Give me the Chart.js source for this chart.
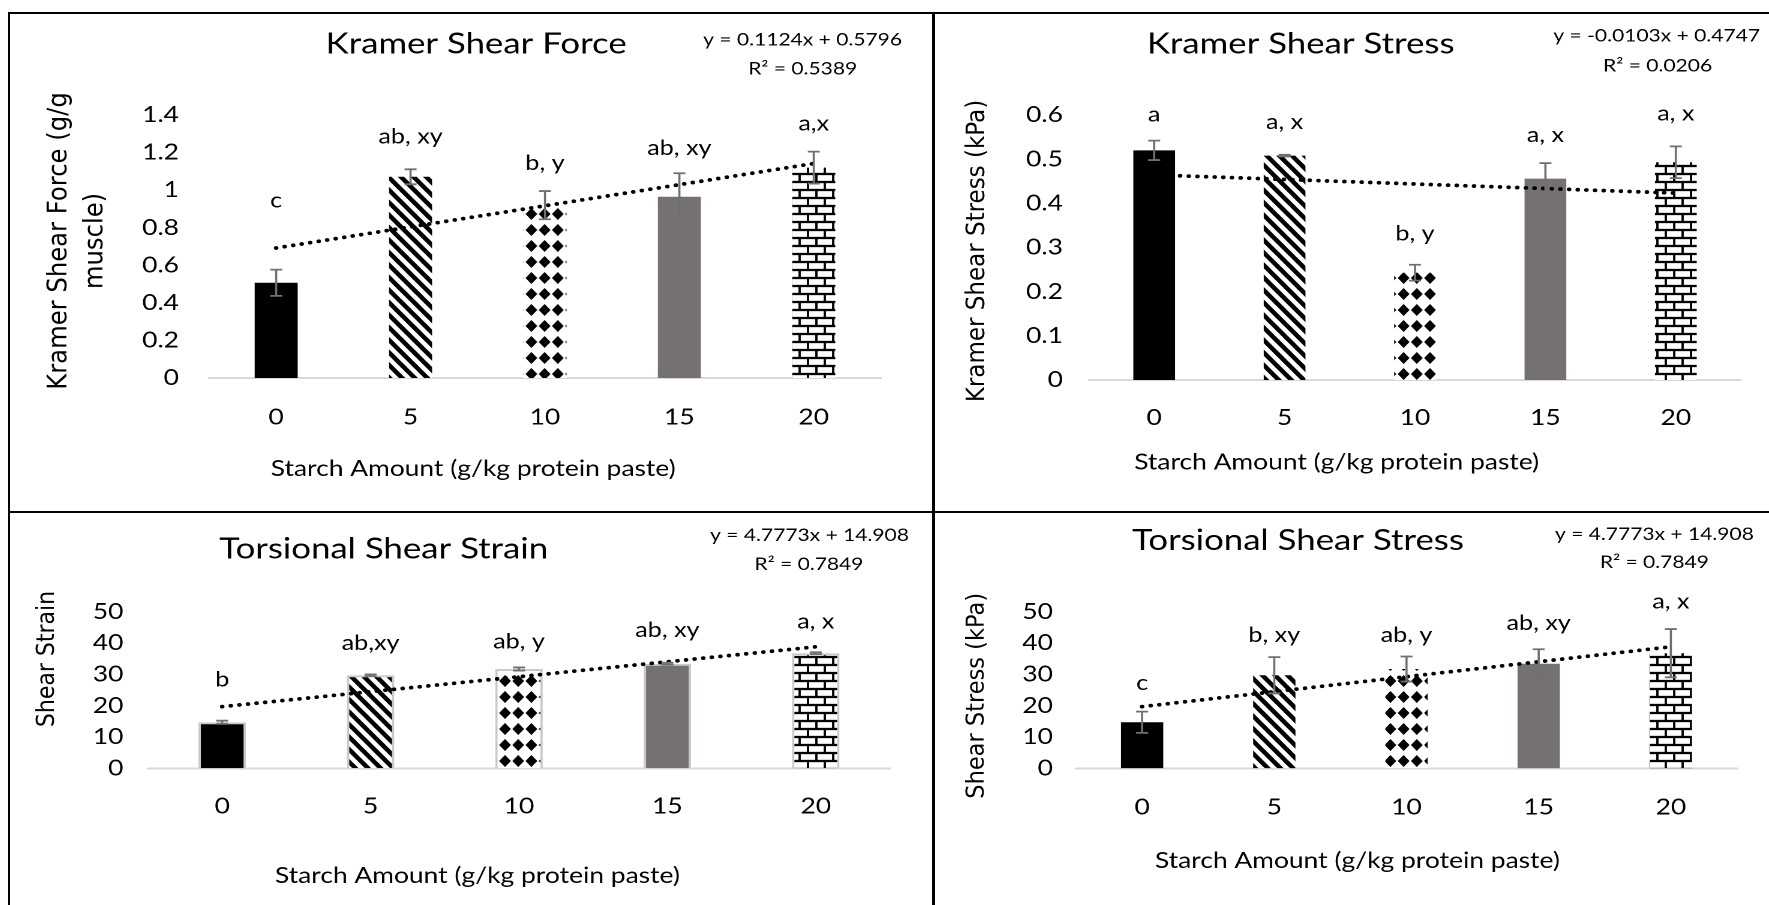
<!DOCTYPE html>
<html>
<head>
<meta charset="utf-8">
<script src="https://cdn.jsdelivr.net/npm/chart.js@4.4.1/dist/chart.umd.min.js"></script>
<style>
  html, body { margin: 0; padding: 0; background: #fff; }
  body { width: 1769px; height: 905px; position: relative; overflow: hidden; }
  canvas.panel { position: absolute; transform-origin: 0 0; transform: scaleX(1.2); }
  .rule { position: absolute; background: #000; }
</style>
</head>
<body>
<canvas id="kf" class="panel"></canvas>
<canvas id="ks" class="panel"></canvas>
<canvas id="tst" class="panel"></canvas>
<canvas id="tss" class="panel"></canvas>

<div class="rule" style="left:8px;top:12px;width:1761px;height:2px"></div>
<div class="rule" style="left:8px;top:12px;width:2px;height:893px"></div>
<div class="rule" style="left:932px;top:12px;width:3px;height:893px"></div>
<div class="rule" style="left:8px;top:511px;width:1761px;height:2px"></div>

<script>
// Starch levels (g/kg protein paste)
const starch = ['0', '5', '10', '15', '20'];

// Kramer shear force (g/g muscle)
const kfMean = [0.507, 1.071, 0.92, 0.965, 1.12];
const kfErr = [0.07, 0.04, 0.075, 0.125, 0.085];
const kfLetters = ['c', 'ab, xy', 'b, y', 'ab, xy', 'a,x'];
const kfLetterAt = [0.935, 1.276, 1.134, 1.214, 1.345];
const kfFit = [0.1124, 0.5796];      // slope, intercept
const kfFitText = ['y = 0.1124x + 0.5796', 'R\u00B2 = 0.5389'];

// Kramer shear stress (kPa)
const ksMean = [0.52, 0.508, 0.243, 0.456, 0.493];
const ksErr = [0.022, 0.002, 0.018, 0.035, 0.036];
const ksLetters = ['a', 'a, x', 'b, y', 'a, x', 'a, x'];
const ksLetterAt = [0.597, 0.580, 0.327, 0.550, 0.599];
const ksFit = [-0.0103, 0.4747];
const ksFitText = ['y = -0.0103x + 0.4747', 'R\u00B2 = 0.0206'];

// Torsional shear strain
const tstMean = [14.7, 29.7, 31.7, 33.4, 36.75];
const tstErr = [0.5, 0.3, 0.5, 0.3, 0.3];
const tstLetters = ['b', 'ab,xy', 'ab, y', 'ab, xy', 'a, x'];
const tstLetterAt = [27.7, 39.4, 39.9, 43.5, 46.3];
const tstFit = [4.7773, 14.908];
const tstFitText = ['y = 4.7773x + 14.908', 'R\u00B2 = 0.7849'];

// Torsional shear stress (kPa)
const tssMean = [14.7, 29.7, 31.7, 33.4, 36.75];
const tssErr = [3.4, 5.8, 4.0, 4.6, 7.7];
const tssLetters = ['c', 'b, xy', 'ab, y', 'ab, xy', 'a, x'];
const tssLetterAt = [26.6, 42.0, 42.0, 45.7, 52.6];
const tssFit = [4.7773, 14.908];
const tssFitText = ['y = 4.7773x + 14.908', 'R\u00B2 = 0.7849'];

const FONT = "Lato, 'Liberation Sans', sans-serif";
const YFONT = "'DejaVu Sans', sans-serif";
Chart.defaults.font.family = FONT;

// ---- fill patterns -------------------------------------------------------
function tile(w, h, paint) {
  const k = 2;
  const c = document.createElement('canvas');
  c.width = Math.round(w * k);
  c.height = Math.round(h * k);
  const g = c.getContext('2d');
  g.scale(k, k);
  g.fillStyle = '#fff';
  g.fillRect(0, 0, w, h);
  g.fillStyle = '#000';
  g.strokeStyle = '#000';
  paint(g, w, h);
  return c;
}
function asPattern(ctx, c) {
  const p = ctx.createPattern(c, 'repeat');
  p.setTransform(new DOMMatrix([0.5, 0, 0, 0.5, 0, 0]));
  return p;
}
const stripeTile = tile(10.5, 12.5, (g, w, h) => {
  g.lineWidth = 4.1;
  for (let i = -1; i <= 1; i++) {
    g.beginPath();
    g.moveTo(i * w - w, -h);
    g.lineTo(i * w + 2 * w, 2 * h);
    g.stroke();
  }
});
const diamondTile = tile(11, 16, (g, w, h) => {
  const cx = w / 2, cy = h / 2, rx = 4.9, ry = 6;
  g.beginPath();
  g.moveTo(cx, cy - ry);
  g.lineTo(cx + rx, cy);
  g.lineTo(cx, cy + ry);
  g.lineTo(cx - rx, cy);
  g.closePath();
  g.fill();
});
const brickTile = tile(14, 16, (g, w, h) => {
  const t = 2.3, v = 1.9, row = h / 2;
  g.fillRect(0, -t / 2, w, t);
  g.fillRect(0, row - t / 2, w, t);
  g.fillRect(0, h - t / 2, w, t);
  g.fillRect(-v / 2, 0, v, row);
  g.fillRect(w - v / 2, 0, v, row);
  g.fillRect(w / 2 - v / 2, row, v, row);
});

// ---- drawing helpers -----------------------------------------------------
function decor(spec) {
  return {
    id: 'decor',
    afterDatasetsDraw(chart) {
      const { ctx, scales: { x, y } } = chart;
      ctx.save();
      // error bars
      ctx.strokeStyle = '#707070';
      ctx.lineWidth = 1.8;
      spec.mean.forEach((m, i) => {
        const e = spec.err[i];
        const cx = x.getPixelForValue(i);
        const yt = y.getPixelForValue(m + e);
        const yb = y.getPixelForValue(m - e);
        ctx.beginPath();
        ctx.moveTo(cx, yt); ctx.lineTo(cx, yb);
        ctx.moveTo(cx - 5, yt); ctx.lineTo(cx + 5, yt);
        ctx.moveTo(cx - 5, yb); ctx.lineTo(cx + 5, yb);
        ctx.stroke();
      });
      // significance letters
      ctx.fillStyle = '#000';
      ctx.font = `21px ${FONT}`;
      ctx.textAlign = 'center';
      ctx.textBaseline = 'alphabetic';
      spec.letters.forEach((t, i) => {
        ctx.fillText(t, x.getPixelForValue(i), y.getPixelForValue(spec.letterAt[i]) + 5);
      });
      ctx.restore();
    },
    afterDraw(chart) {
      const ctx = chart.ctx;
      ctx.save();
      ctx.fillStyle = '#000';
      ctx.textAlign = 'center';
      ctx.textBaseline = 'alphabetic';
      // chart title
      ctx.font = `29px ${FONT}`;
      ctx.fillText(spec.title.text, spec.title.x, spec.title.y);
      // regression equation
      ctx.font = `17.5px ${FONT}`;
      spec.fitText.forEach((t, i) => ctx.fillText(t, spec.eq.x[i], spec.eq.y[i]));
      // x axis title
      ctx.font = `22px ${FONT}`;
      ctx.fillText(spec.xTitle.text, spec.xTitle.x, spec.xTitle.y);
      // y axis title (rotated)
      spec.yTitle.lines.forEach((t, i) => {
        ctx.save();
        ctx.translate(spec.yTitle.x[i], spec.yTitle.y);
        ctx.scale(1 / 1.1, 1);
        ctx.rotate(-Math.PI / 2);
        ctx.font = `${spec.yTitle.size}px ${YFONT}`;
        ctx.textBaseline = 'middle';
        ctx.fillText(t, 0, 0);
        ctx.restore();
      });
      ctx.restore();
    }
  };
}

function makePanel(id, spec) {
  const cv = document.getElementById(id);
  cv.width = spec.w;
  cv.height = spec.h;
  cv.style.width = spec.w + 'px';
  cv.style.height = spec.h + 'px';
  cv.style.left = spec.left + 'px';
  cv.style.top = spec.top + 'px';
  const ctx = cv.getContext('2d');
  const fills = ['#000000', asPattern(ctx, stripeTile), asPattern(ctx, diamondTile), '#767171', asPattern(ctx, brickTile)];
  const trend = starch.map((_, i) => spec.fit[0] * (i + 1) + spec.fit[1]);
  const tickFont = { family: FONT, size: 22 };

  new Chart(cv, {
    type: 'bar',
    data: {
      labels: starch,
      datasets: [
        {
          type: 'line',
          data: trend,
          borderColor: '#000',
          borderWidth: 3.8,
          borderDash: [0.01, 7.2],
          borderCapStyle: 'round',
          pointRadius: 0,
          fill: false,
          tension: 0,
          order: 0
        },
        {
          type: 'bar',
          data: spec.mean,
          backgroundColor: fills,
          borderColor: spec.outline || 'rgba(0,0,0,0)',
          borderWidth: spec.outline ? 2 : 0,
          barPercentage: 0.32,
          categoryPercentage: 1,
          order: 1
        }
      ]
    },
    options: {
      responsive: false,
      maintainAspectRatio: false,
      animation: false,
      devicePixelRatio: 2,
      events: [],
      layout: { padding: { top: spec.area.top, right: spec.w - spec.area.right, bottom: 0, left: 0 } },
      plugins: { legend: { display: false }, tooltip: { enabled: false }, title: { display: false } },
      scales: {
        x: {
          grid: { display: false, drawTicks: false },
          border: { display: true, color: '#d9d9d9', width: 2 },
          ticks: { color: '#000', font: tickFont, padding: spec.xTickPad - 2, maxRotation: 0, autoSkip: false },
          afterFit: s => { s.height = spec.h - spec.area.bottom; }
        },
        y: {
          min: 0,
          max: spec.max,
          grid: { display: false, drawTicks: false },
          border: { display: false },
          ticks: {
            stepSize: spec.step,
            color: '#000',
            font: tickFont,
            padding: spec.yTickPad,
            callback: v => String(parseFloat(Number(v).toFixed(3)))
          },
          afterFit: s => { s.width = spec.area.left; }
        }
      }
    },
    plugins: [decor(spec)]
  });
}

makePanel('kf', {
  left: 10, top: 14, w: 768, h: 497,
  area: { left: 165.8, right: 725.8, top: 101, bottom: 364 },
  max: 1.4, step: 0.2, yTickPad: 25, xTickPad: 28,
  mean: kfMean, err: kfErr, letters: kfLetters, letterAt: kfLetterAt,
  fit: kfFit, fitText: kfFitText,
  title: { text: 'Kramer Shear Force', x: 388.5, y: 39.5 },
  eq: { x: [660.5, 660.6], y: [31.5, 60.5] },
  yTitle: { lines: ['Kramer Shear Force (g/g', 'muscle)'], x: [41.3, 71.2], y: 227, size: 24.3 },
  xTitle: { text: 'Starch Amount (g/kg protein paste)', x: 386, y: 462 }
});

makePanel('ks', {
  left: 935, top: 14, w: 695, h: 497,
  area: { left: 128.3, right: 671.7, top: 101, bottom: 366 },
  max: 0.6, step: 0.1, yTickPad: 21.7, xTickPad: 26.6,
  mean: ksMean, err: ksErr, letters: ksLetters, letterAt: ksLetterAt,
  fit: ksFit, fitText: ksFitText,
  title: { text: 'Kramer Shear Stress', x: 304.75, y: 39.5 },
  eq: { x: [601.4, 602.2], y: [27.5, 57.5] },
  yTitle: { lines: ['Kramer Shear Stress (kPa)'], x: [35.4], y: 237, size: 23 },
  xTitle: { text: 'Starch Amount (g/kg protein paste)', x: 334.7, y: 455.5 }
});

makePanel('tst', {
  left: 10, top: 513, w: 768, h: 392,
  area: { left: 115, right: 733.3, top: 98.7, bottom: 255.3 },
  max: 50, step: 10, yTickPad: 20.5, xTickPad: 27,
  mean: tstMean, err: tstErr, letters: tstLetters, letterAt: tstLetterAt,
  fit: tstFit, fitText: tstFitText, outline: '#c9c9c9',
  title: { text: 'Torsional Shear Strain', x: 311.4, y: 45.5 },
  eq: { x: [666.25, 665.8], y: [28, 57] },
  yTitle: { lines: ['Shear Strain'], x: [31.4], y: 146, size: 22 },
  xTitle: { text: 'Starch Amount (g/kg protein paste)', x: 389.5, y: 370 }
});

makePanel('tss', {
  left: 935, top: 513, w: 695, h: 392,
  area: { left: 117.5, right: 668.3, top: 98.7, bottom: 255.3 },
  max: 50, step: 10, yTickPad: 19.2, xTickPad: 28,
  mean: tssMean, err: tssErr, letters: tssLetters, letterAt: tssLetterAt,
  fit: tssFit, fitText: tssFitText,
  title: { text: 'Torsional Shear Stress', x: 302.5, y: 37.2 },
  eq: { x: [599.5, 599.5], y: [27, 55.2] },
  yTitle: { lines: ['Shear Stress (kPa)'], x: [35.4], y: 182.8, size: 22.5 },
  xTitle: { text: 'Starch Amount (g/kg protein paste)', x: 352, y: 355 }
});
</script>
</body>
</html>
